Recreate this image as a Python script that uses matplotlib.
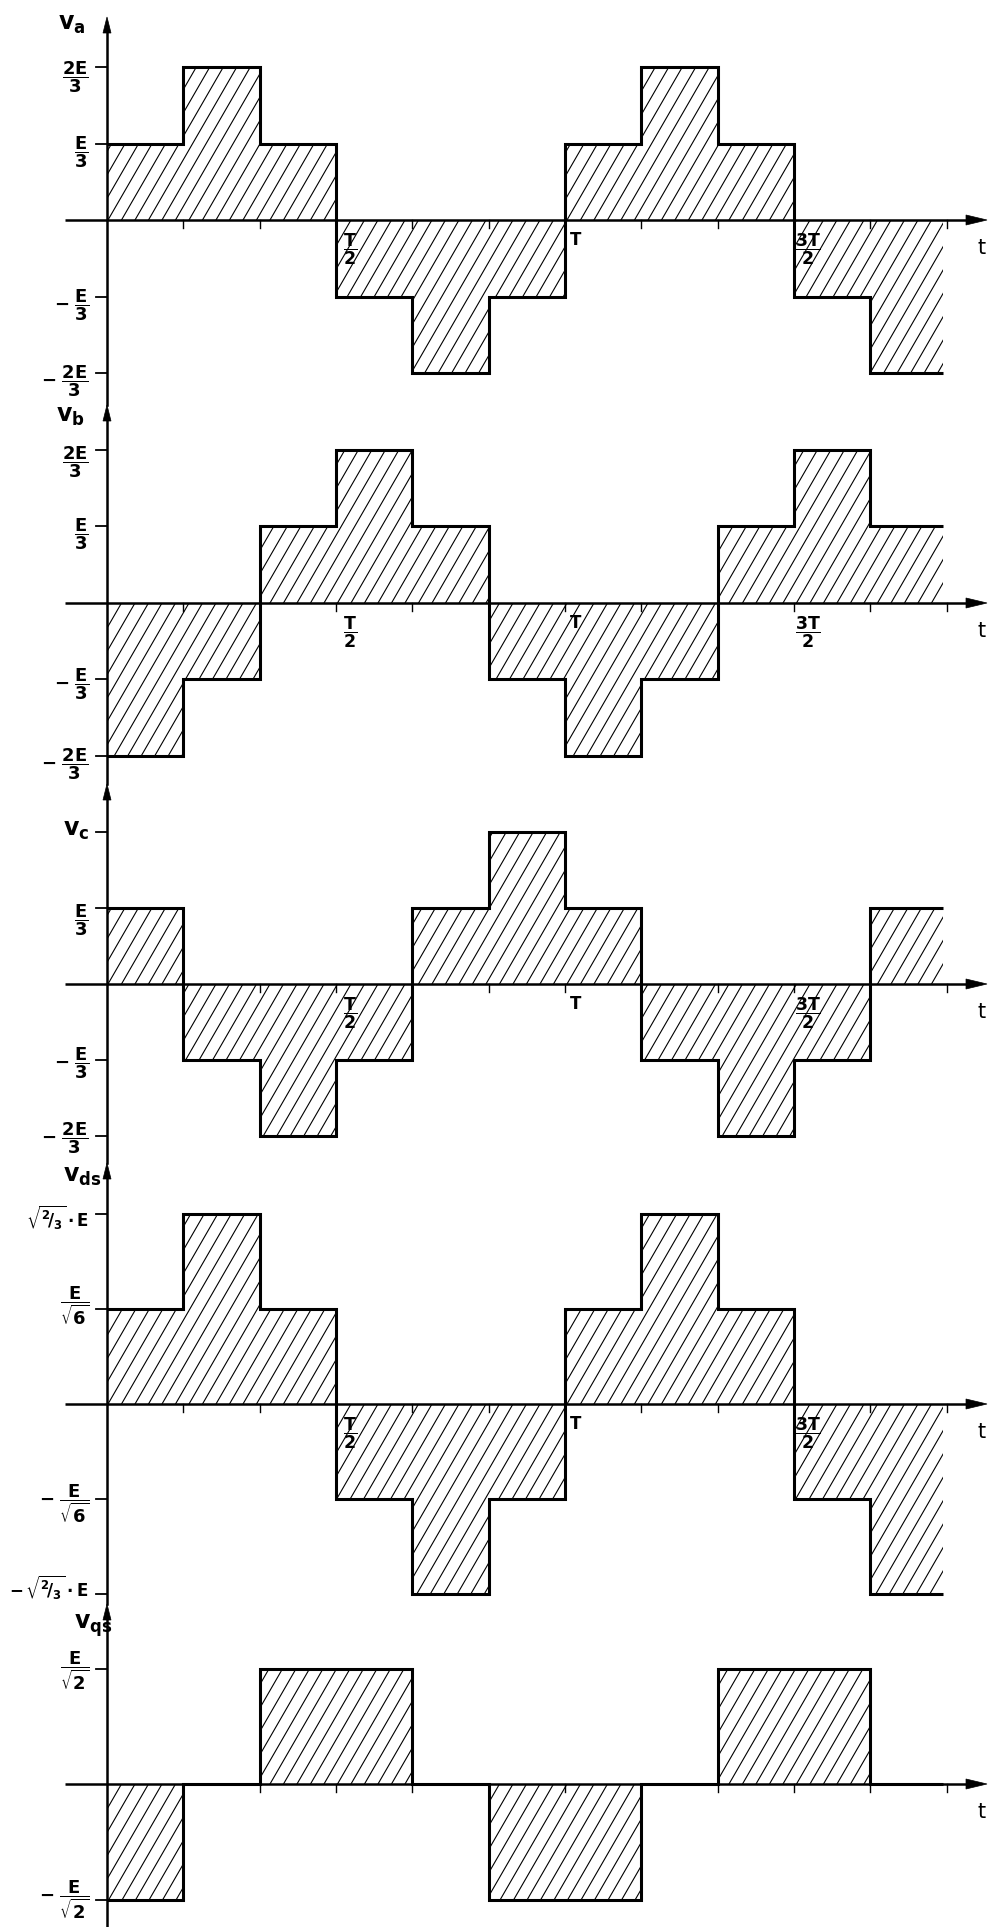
import numpy as np
import matplotlib.pyplot as plt
from matplotlib.collections import LineCollection
from matplotlib.patches import Polygon

plt.rcParams["font.family"] = "DejaVu Sans"
plt.rcParams["mathtext.fontset"] = "dejavusans"
plt.rcParams["mathtext.default"] = "bf"

W, H = 989, 1927

# six-step inverter voltages, one value per T/6 interval
va = [1, 2, 1, -1, -2, -1, 1, 2, 1, -1, -2]    # multiples of E/3
vb = [-2, -1, 1, 2, 1, -1, -2, -1, 1, 2, 1]    # multiples of E/3
vc = [1, -1, -2, -1, 1, 2, 1, -1, -2, -1, 1]   # multiples of E/3
vds = [1, 2, 1, -1, -2, -1, 1, 2, 1, -1, -2]   # multiples of E/sqrt(6)
vqs = [-1, 0, 1, 1, 0, -1, -1, 0, 1, 1, 0]     # multiples of E/sqrt(2)
t_end = 1.825  # last interval stops a bit short of 11T/6

thirds = {2: r"$\dfrac{2E}{3}$", 1: r"$\dfrac{E}{3}$",
          -1: r"$-\ \dfrac{E}{3}$", -2: r"$-\ \dfrac{2E}{3}$"}
vc_labels = {1: r"$\dfrac{E}{3}$", -1: r"$-\ \dfrac{E}{3}$", -2: r"$-\ \dfrac{2E}{3}$"}
ds_labels = {2: r"$\sqrt{{}^2\!/_3}\cdot E$", 1: r"$\dfrac{E}{\sqrt{6}}$",
             -1: r"$-\ \dfrac{E}{\sqrt{6}}$", -2: r"$-\,\sqrt{{}^2\!/_3}\cdot E$"}
qs_labels = {1: r"$\dfrac{E}{\sqrt{2}}$", -1: r"$-\ \dfrac{E}{\sqrt{2}}$"}
time_labels = [(0.5, r"$\dfrac{T}{2}$"), (1.0, "T"), (1.5, r"$\dfrac{3T}{2}$")]

# pixel layout: zero line, pixels per level, top of the y arrow, name position,
# and how far each level label sits below its tick
panels = [
    dict(v=va, name=r"$v_a$", labels=thirds, ticks=[2, 1, -1, -2],
         zero=220, unit=76.5, top=17, name_xy=(72, 24), tl=True,
         drop={2: 10, 1: 9, -1: 9, -2: 8}),
    dict(v=vb, name=r"$v_b$", labels=thirds, ticks=[2, 1, -1, -2],
         zero=603, unit=76.5, top=405, name_xy=(70, 416), tl=True,
         drop={2: 12, 1: 8, -1: 5, -2: 8}),
    dict(v=vc, name=r"$v_c$", labels=vc_labels, ticks=[2, 1, -1, -2],
         zero=984, unit=76, top=784, name_xy=(76, 830), tl=True,
         drop={1: 12, -1: 3, -2: 2}),
    dict(v=vds, name=r"$v_{ds}$", labels=ds_labels, ticks=[2, 1, -1, -2],
         zero=1404, unit=95, top=1163, name_xy=(82, 1176), tl=True,
         drop={2: 4, 1: -3, -1: 5, -2: -6}),
    dict(v=vqs, name=r"$v_{qs}$", labels=qs_labels, ticks=[1, -1],
         zero=1784, unit=115.5, top=1604, name_xy=(93, 1626), tl=False,
         drop={1: 2, -1: 0}),
]
bounds = [0, 400, 780, 1160, 1600, H]

X0, TPX = 107, 458  # y-axis position and one period, in pixels
fig = plt.figure(figsize=(W / 100, H / 100), dpi=100)

for i, p in enumerate(panels):
    top_px, bot_px = bounds[i], bounds[i + 1]
    zero, unit = p["zero"], p["unit"]
    ax = fig.add_axes([0, 1 - bot_px / H, 1, (bot_px - top_px) / H])
    ax.set_xlim(-X0 / TPX, (W - X0) / TPX)
    ax.set_ylim((zero - bot_px) / unit, (zero - top_px) / unit)
    ax.axis("off")

    def px(x):
        return (x - X0) / TPX

    def py(y):
        return (zero - y) / unit

    v = np.asarray(p["v"], dtype=float)
    edges = np.append(np.arange(len(v)) / 6, t_end)

    # hatched area between the wave and the axis
    xs = np.repeat(edges, 2)
    ys = np.concatenate([[0], np.repeat(v, 2), [0]])
    area = Polygon(np.column_stack([xs, ys]), closed=True, fc="none", ec="none")
    ax.add_patch(area)
    slope = np.tan(np.radians(60)) * TPX / unit
    starts = np.arange(-1.0, 2.6, 13.5 / TPX)
    segs = [[(s - 3 / slope, -3), (s + 3 / slope, 3)] for s in starts]
    hatch = LineCollection(segs, colors="k", linewidths=0.8)
    ax.add_collection(hatch)
    hatch.set_clip_path(area)

    ax.stairs(v, edges, baseline=None, color="k", lw=2.2)

    # time axis with arrow
    ax.plot([px(65), px(970)], [0, 0], color="k", lw=1.8, solid_capstyle="butt")
    ax.add_patch(Polygon([(px(987), 0), (px(966), py(zero - 5)), (px(966), py(zero + 5))],
                         closed=True, fc="k", ec="k", lw=0.5))
    for k in range(1, 12):
        ax.plot([k / 6, k / 6], [0, -8 / unit], color="k", lw=1.0)
    ax.text(px(982), -28 / unit, "t", fontsize=15, ha="center", va="center")

    # vertical axis with arrow
    y_bot = bounds[i + 1] if i == len(panels) - 1 else panels[i + 1]["top"]
    ax.plot([0, 0], [py(p["top"] + 10), py(y_bot)], color="k", lw=1.8, clip_on=False)
    ax.add_patch(Polygon([(0, py(p["top"])), (px(103), py(p["top"] + 16)),
                          (px(111), py(p["top"] + 16))],
                         closed=True, fc="k", ec="k", lw=0.5, clip_on=False))

    for lvl in p["ticks"]:
        ax.plot([px(96), 0], [lvl, lvl], color="k", lw=1.3)
    for lvl, lab in p["labels"].items():
        size = 12 if "sqrt{{}" in lab else 13
        ax.text(px(89), lvl - p["drop"][lvl] / unit, lab, fontsize=size,
                ha="right", va="center")

    nx, ny = p["name_xy"]
    ax.text(px(nx), py(ny), p["name"], fontsize=17, ha="center", va="center")

    if p["tl"]:
        for tt, lab in time_labels:
            if lab == "T":
                ax.text(tt + 11 / TPX, -20 / unit, lab, fontsize=12, fontweight="bold",
                        ha="center", va="center")
            else:
                ax.text(tt + 14 / TPX, -29 / unit, lab, fontsize=12.5, ha="center", va="center")

fig.savefig("out.png", dpi=100)
